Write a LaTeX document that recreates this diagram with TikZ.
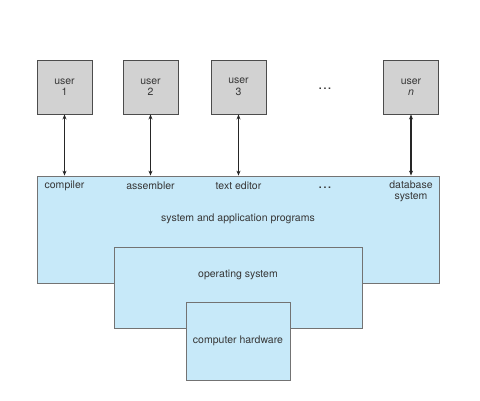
\documentclass[tikz,border=0pt]{standalone}
\usepackage{fontspec}
\setmainfont{TeX Gyre Heros}
\usetikzlibrary{arrows.meta}
\definecolor{usergray}{RGB}{210,210,210}
\definecolor{layerblue}{RGB}{199,233,249}
\definecolor{inkgray}{RGB}{55,55,55}
\tikzset{
  userbox/.style={draw=black!70, fill=usergray, line width=0.9pt,
    minimum width=55pt, minimum height=54pt, inner sep=0pt, align=center,
    text=inkgray, font=\fontsize{10.5}{11.5}\selectfont},
  layerbox/.style={draw=black!55, fill=layerblue, line width=0.8pt, inner sep=0pt},
  lbl/.style={font=\fontsize{10.5}{11.5}\selectfont, text=inkgray, align=center, inner sep=0pt},
  link/.style={{Stealth[length=5pt,width=4pt]}-{Stealth[length=5pt,width=4pt]},
    line width=1.3pt, black!85},
}

\begin{document}
\begin{tikzpicture}[x=1pt,y=-1pt]
  \useasboundingbox (0,0) rectangle (480,401);
  % layers, back to front
  \node[layerbox, minimum width=402pt, minimum height=107pt] (sys) at (238,229.5) {};
  \node[layerbox, minimum width=248pt, minimum height=81pt] (os) at (238,287.5) {};
  \node[layerbox, minimum width=104pt, minimum height=78pt] (hw) at (238,341) {};
  \node[lbl] (syslbl) at (238,218.7) {system and application programs};
  \node[lbl] (oslbl) at (238,275) {operating system};
  \node[lbl] (hwlbl) at (238,341) {computer hardware};
  % users
  \node[userbox] (u1) at (64.5,87) {user\\1};
  \node[userbox] (u2) at (150.5,87) {user\\2};
  \node[userbox] (u3) at (238.5,87) {user\\3};
  \node[lbl] (udots) at (325,89) {\textbf{.\,.\,.}};
  \node[userbox] (un) at (411,87) {user\\\textit{n}};
  % programs
  \node[lbl] (comp) at (64.5,186) {compiler};
  \node[lbl] (asm) at (150.5,186) {assembler};
  \node[lbl] (edit) at (238.5,186) {text editor};
  \node[lbl] (pdots) at (325,188) {\textbf{.\,.\,.}};
  \node[lbl] (db) at (411,191.5) {database\\system};
  \foreach \u in {u1,u2,u3,un}
    \draw[link] (\u.south) -- (\u.south |- sys.north);
\end{tikzpicture}
\end{document}
